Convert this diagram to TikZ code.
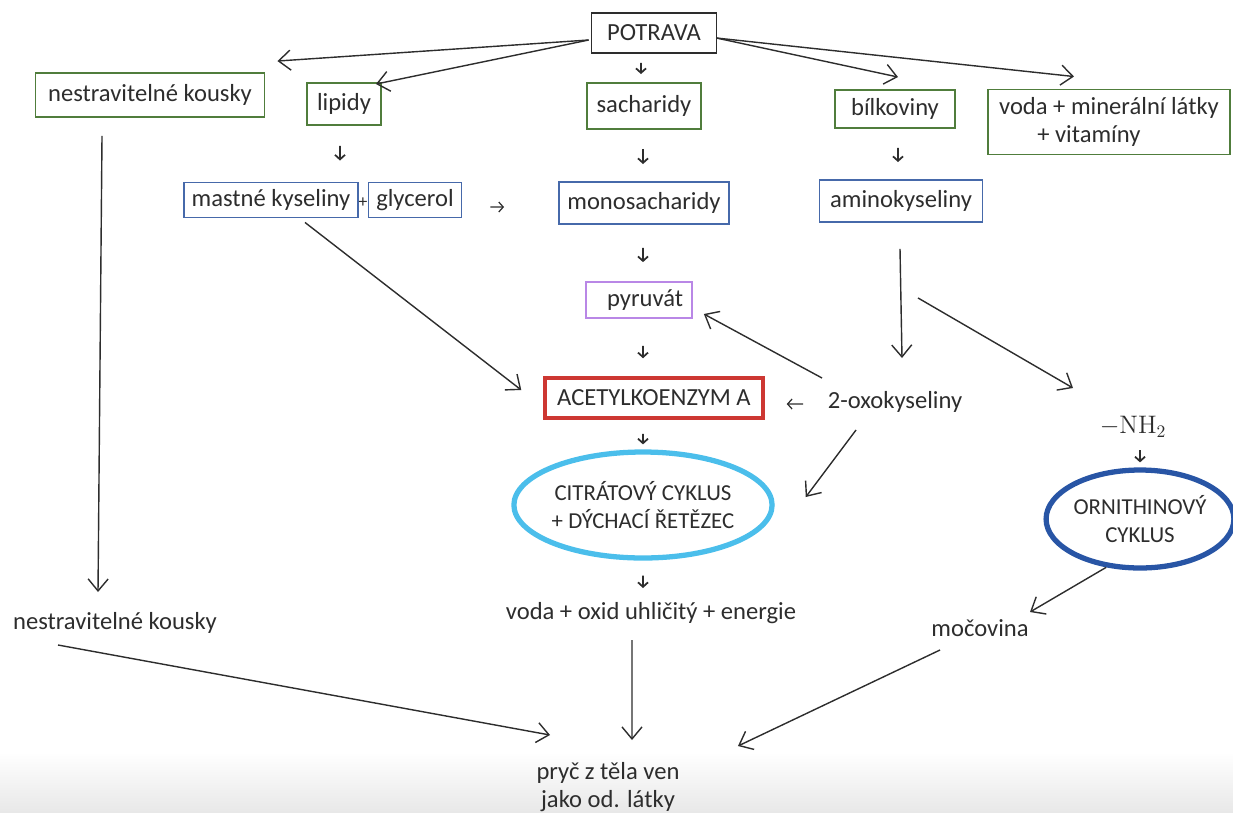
\documentclass[tikz,border=0pt]{standalone}
\usepackage[no-math]{fontspec}
\setmainfont{Carlito}
\usetikzlibrary{arrows.meta, shapes.geometric, positioning}

\definecolor{foodgreen}{RGB}{80,125,60}
\definecolor{unitblue}{RGB}{70,105,170}
\definecolor{pyrviolet}{RGB}{185,135,230}
\definecolor{acetred}{RGB}{205,55,50}
\definecolor{krebscyan}{RGB}{75,190,235}
\definecolor{ureablue}{RGB}{40,85,165}
\definecolor{inkgray}{RGB}{45,45,45}

\begin{document}
\begin{tikzpicture}[x=0.02cm, y=-0.02cm,
  every node/.style={font=\fontsize{14}{16}\selectfont, text=inkgray},
  foodbox/.style={rectangle, draw=foodgreen, line width=1.1pt, inner sep=0pt},
  unitbox/.style={rectangle, draw=unitblue, line width=1.1pt, inner sep=0pt},
  loopring/.style={ellipse, line width=3pt, align=center, inner sep=0pt, font=\fontsize{13}{16}\selectfont},
  arr/.style={draw=inkgray, line width=0.8pt, -{Straight Barb[length=2.4mm,width=4mm]}},
  tick/.style={draw=inkgray, line width=1pt, -{Straight Barb[length=0.9mm,width=2mm]}}]
  \useasboundingbox (0,0) rectangle (1233,812);
  \shade[top color=white, bottom color=black!9] (0,752) rectangle (1233,812);

  % food and what it is made of
  \node[rectangle, draw=inkgray, line width=1pt, minimum width=2.5cm, minimum height=0.8cm] (potrava) at (654,33) {POTRAVA};
  \node[foodbox, minimum width=4.58cm, minimum height=0.88cm] (nestrav) at (150,95) {nestravitelné kousky};
  \node[foodbox, minimum width=1.48cm, minimum height=0.84cm] (lipidy) at (344,104) {lipidy};
  \node[foodbox, minimum width=2.28cm, minimum height=0.92cm] (sacharidy) at (644,106) {sacharidy};
  \node[foodbox, minimum width=2.4cm, minimum height=0.76cm] (bilkoviny) at (895,109) {bílkoviny};
  \node[foodbox, minimum width=4.84cm, minimum height=1.3cm, align=left] (voda) at (1109,122) {voda + minerální látky\\\hspace{1.55em}+ vitamíny};

  % building blocks
  \node[unitbox, minimum width=3.48cm, minimum height=0.7cm] (mastne) at (271,200) {mastné kyseliny};
  \node[unitbox, minimum width=1.86cm, minimum height=0.7cm] (glycerol) at (415,200) {glycerol};
  \node[inner sep=0pt, font=\fontsize{10}{12}\selectfont] (plus) at (363,203) {+};
  \node[unitbox, minimum width=3.4cm, minimum height=0.84cm] (monosach) at (644,203) {monosacharidy};
  \node[unitbox, minimum width=3.26cm, minimum height=0.84cm] (aminokys) at (901,201) {aminokyseliny};

  % metabolism
  \node[rectangle, draw=pyrviolet, line width=1pt, minimum width=2.12cm, minimum height=0.72cm] (pyruvat) at (639,300) {\hspace{0.5em}pyruvát};
  \node[rectangle, draw=acetred, line width=2pt, minimum width=4.36cm, minimum height=0.8cm] (acetyl) at (654,398) {ACETYLKOENZYM A};
  \node (oxo) at (895,402) {2-oxokyseliny};
  \node[loopring, draw=krebscyan, minimum width=4.54cm, minimum height=2.12cm] (krebs) at (643,505) {CITRÁTOVÝ CYKLUS\\+ DÝCHACÍ ŘETĚZEC};
  \node (nh) at (1133,427) {$-\mathrm{NH}_2$};
  \node[loopring, draw=ureablue, minimum width=3.52cm, minimum height=1.96cm] (ornithin) at (1140,519) {ORNITHINOVÝ\\CYKLUS};

  % products
  \node (nestrav2) at (115,623) {nestravitelné kousky};
  \node (vodaco) at (651,613) {voda + oxid uhličitý + energie};
  \node (mocovina) at (980,628) {močovina};
  \node[anchor=north, align=center] (pryc) at (608,756) {pryč z těla ven\\jako od. látky};

  % arrows out of the food box
  \draw[arr] ([shift={(-0.04cm,-0.14cm)}]potrava.west) -- ([shift={(0.24cm,0.22cm)}]nestrav.north east);
  \draw[arr] ([shift={(-0.04cm,-0.14cm)}]potrava.west) -- ([shift={(-0.12cm,-0.04cm)}]lipidy.north east);
  \draw[arr] ([shift={(-0.02cm,-0.1cm)}]potrava.east) -- ([shift={(0.06cm,0.24cm)}]bilkoviny.north);
  \draw[arr] ([shift={(-0.02cm,-0.1cm)}]potrava.east) -- ([shift={(-0.7cm,0.24cm)}]voda.north);

  % short arrows
  \draw[tick] ([shift={(-0.26cm,-0.18cm)}]potrava.south) -- ([shift={(-0.06cm,0.16cm)}]sacharidy.north);
  \draw[tick] ([shift={(-0.08cm,-0.4cm)}]lipidy.south) -- ([shift={(1.38cm,0.42cm)}]mastne.north);
  \draw[tick] ([shift={(-0.02cm,-0.38cm)}]sacharidy.south) -- ([shift={(-0.02cm,0.34cm)}]monosach.north);
  \draw[tick] ([shift={(0.06cm,-0.38cm)}]bilkoviny.south) -- ([shift={(-0.06cm,0.34cm)}]aminokys.north);
  \draw[tick] ([shift={(-0.02cm,-0.46cm)}]monosach.south) -- ([shift={(0.08cm,0.38cm)}]pyruvat.north);
  \draw[tick] ([shift={(0.08cm,-0.54cm)}]pyruvat.south) -- ([shift={(-0.22cm,0.36cm)}]acetyl.north);
  \draw[tick] ([shift={(-0.22cm,-0.28cm)}]acetyl.south) -- ([shift={(0cm,0.1cm)}]krebs.north);
  \draw[tick] ([shift={(0cm,-0.3cm)}]krebs.south) -- ([shift={(-0.16cm,0.5cm)}]vodaco.center);
  \draw[tick] ([shift={(0.14cm,-0.46cm)}]nh.center) -- ([shift={(0cm,0.1cm)}]ornithin.north);
  \draw[tick, line width=0.7pt] ([shift={(0.56cm,-0.14cm)}]glycerol.east) -- ([shift={(-1.08cm,-0.08cm)}]monosach.west);
  \draw[tick, line width=0.7pt] ([shift={(-1.84cm,-0.04cm)}]oxo.center) -- ([shift={(0.44cm,-0.12cm)}]acetyl.east);

  % long arrows
  \draw[arr] ([shift={(-0.96cm,-0.36cm)}]nestrav.south) -- ([shift={(-0.34cm,0.62cm)}]nestrav2.center);
  \draw[arr] ([shift={(0.68cm,-0.08cm)}]mastne.south) -- ([shift={(-0.44cm,0.16cm)}]acetyl.west);
  \draw[arr] ([shift={(-0.02cm,-0.52cm)}]aminokys.south) -- ([shift={(0.14cm,0.88cm)}]oxo.center);
  \draw[arr] ([shift={(0.34cm,-1.5cm)}]aminokys.south) -- ([shift={(-1.2cm,0.78cm)}]nh.center);
  \draw[arr] ([shift={(-1.46cm,0.48cm)}]oxo.center) -- ([shift={(0.22cm,-0.28cm)}]pyruvat.east);
  \draw[arr] ([shift={(-0.78cm,-0.56cm)}]oxo.center) -- ([shift={(0.62cm,0.16cm)}]krebs.east);
  \draw[arr] (ornithin.-125) -- ([shift={(1cm,0.32cm)}]mocovina.center);
  \draw[arr] ([shift={(-1.14cm,-0.44cm)}]nestrav2.center) -- ([shift={(-1.16cm,0.42cm)}]pryc.north);
  \draw[arr] ([shift={(-0.38cm,-0.54cm)}]vodaco.center) -- ([shift={(0.48cm,0.32cm)}]pryc.north);
  \draw[arr] ([shift={(-0.8cm,-0.44cm)}]mocovina.center) -- ([shift={(2.6cm,0.2cm)}]pryc.north);
\end{tikzpicture}
\end{document}
